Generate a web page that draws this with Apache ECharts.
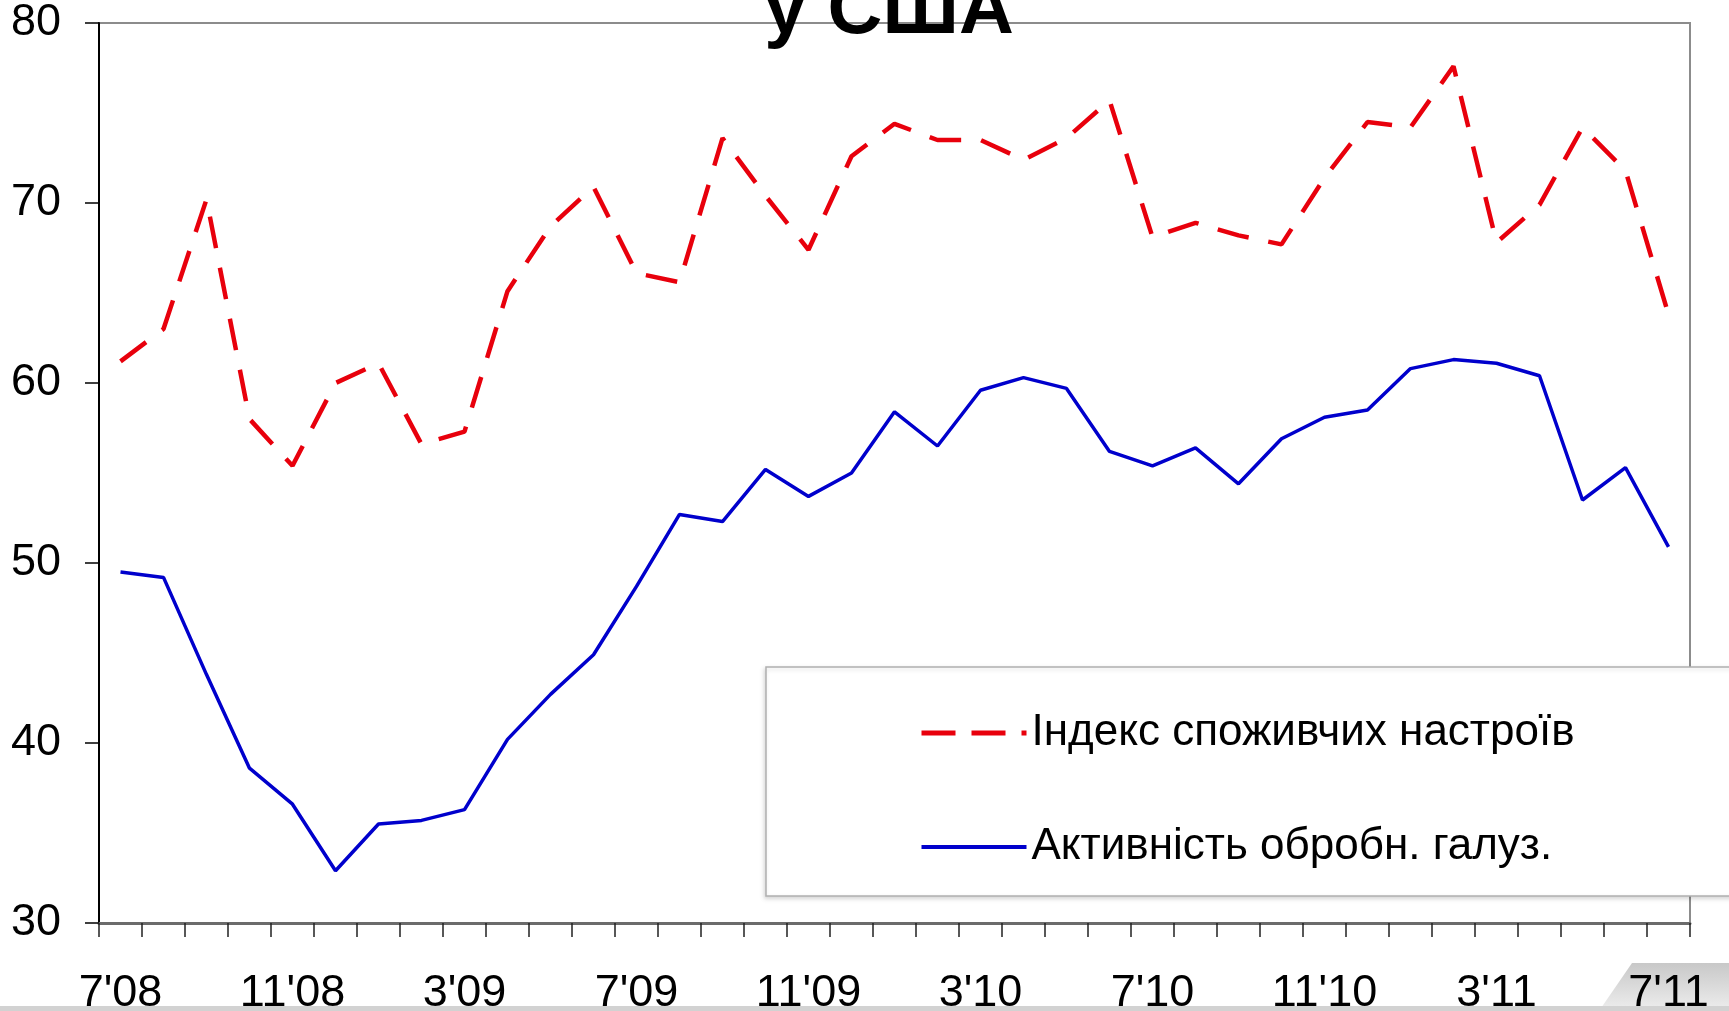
<!DOCTYPE html>
<html>
<head>
<meta charset="utf-8">
<script src="https://cdn.jsdelivr.net/npm/echarts@6/dist/echarts.min.js"></script>
<style>
  html, body { margin: 0; padding: 0; background: #fff; }
  #chart { width: 1729px; height: 1011px; }
</style>
</head>
<body>
<div id="chart"></div>
<script>
// місяці 7'08 .. 7'11
const months = [
  "7'08", "8'08", "9'08", "10'08", "11'08", "12'08", "1'09", "2'09", "3'09", "4'09", "5'09", "6'09",
  "7'09", "8'09", "9'09", "10'09", "11'09", "12'09", "1'10", "2'10", "3'10", "4'10", "5'10", "6'10",
  "7'10", "8'10", "9'10", "10'10", "11'10", "12'10", "1'11", "2'11", "3'11", "4'11", "5'11", "6'11",
  "7'11"
]

const sentimentName = 'Індекс споживчих настроїв'
const sentiment = [
  61.2, 63.0, 70.2, 58.0, 55.4, 60.0, 61.1, 56.6, 57.3, 65.1, 68.7, 70.9,
  66.1, 65.6, 73.6, 70.4, 67.4, 72.6, 74.4, 73.5, 73.5, 72.4, 73.6, 75.7,
  68.1, 68.9, 68.2, 67.7, 71.4, 74.5, 74.2, 77.6, 67.8, 69.9, 74.2, 71.8,
  63.8
]

const manufName = 'Активність обробн. галуз.'
const manufacturing = [
  49.5, 49.2, 43.8, 38.6, 36.6, 32.9, 35.5, 35.7, 36.3, 40.2, 42.7, 44.9,
  48.7, 52.7, 52.3, 55.2, 53.7, 55.0, 58.4, 56.5, 59.6, 60.3, 59.7, 56.2,
  55.4, 56.4, 54.4, 56.9, 58.1, 58.5, 60.8, 61.3, 61.1, 60.4, 53.5, 55.3,
  50.9
]

const yTicks = { min: 30, max: 80, step: 10 }

const font = "'Liberation Sans', Arial, sans-serif"
const red = '#e8000c'
const blue = '#0000cc'
const chart = echarts.init(document.getElementById('chart'))

chart.setOption({
  backgroundColor: '#fff',
  animation: false,
  title: {
    text: 'у США',
    left: 889,
    top: -26,
    padding: 0,
    textAlign: 'center',
    textStyle: { fontFamily: font, fontSize: 76, fontWeight: 'bold', color: '#000' }
  },
  grid: {
    left: 99,
    right: 39,
    top: 23,
    bottom: 88,
    outerBoundsMode: 'none',
    show: true,
    borderColor: '#8c8c8c',
    borderWidth: 2,
    backgroundColor: 'transparent'
  },
  graphic: [
    {
      type: 'rect',
      z: 1,
      shape: { x: 766, y: 667, width: 1000, height: 229 },
      style: {
        fill: '#fff',
        stroke: '#b0b0b0',
        lineWidth: 1.5,
        shadowBlur: 4,
        shadowOffsetX: -1,
        shadowOffsetY: 2,
        shadowColor: 'rgba(0,0,0,0.15)'
      }
    },
    {
      type: 'rect',
      z: 1,
      shape: { x: 0, y: 1006, width: 1729, height: 5 },
      style: { fill: '#d2d2d2' }
    },
    {
      type: 'polygon',
      z: 0,
      shape: { points: [[1599, 1011], [1632, 963], [1729, 963], [1729, 1011]] },
      style: {
        fill: new echarts.graphic.LinearGradient(0, 0, 0, 1, [
          { offset: 0, color: '#c8c8c8' },
          { offset: 1, color: '#eeeeee' }
        ])
      }
    }
  ],
  legend: {
    orient: 'vertical',
    left: 914,
    top: 706,
    itemWidth: 105,
    itemHeight: 20,
    itemGap: 70,
    z: 5,
    itemStyle: { opacity: 0 },
    textStyle: { fontFamily: font, fontSize: 44, color: '#000' },
    data: [
      { name: sentimentName, lineStyle: { width: 5, type: [34, 16] } },
      { name: manufName, lineStyle: { width: 4 } }
    ]
  },
  xAxis: {
    type: 'category',
    data: months,
    boundaryGap: true,
    axisLine: { lineStyle: { color: '#6b6b6b', width: 3 } },
    axisTick: { show: true, interval: 0, length: 14, lineStyle: { color: '#222', width: 1.5 } },
    axisLabel: {
      interval: 3,
      margin: 48,
      fontFamily: font,
      fontSize: 45,
      color: '#000'
    },
    splitLine: { show: false }
  },
  yAxis: {
    type: 'value',
    min: yTicks.min,
    max: yTicks.max,
    interval: yTicks.step,
    axisLine: { show: true, lineStyle: { color: '#000', width: 2 } },
    axisTick: { show: true, length: 14, lineStyle: { color: '#000', width: 1.5 } },
    axisLabel: { margin: 38, padding: [6, 0, 0, 0], fontFamily: font, fontSize: 45, color: '#000' },
    splitLine: { show: false }
  },
  series: [
    {
      name: sentimentName,
      type: 'line',
      data: sentiment,
      symbol: 'none',
      z: 3,
      lineStyle: { color: red, width: 4.5, type: [32, 20] },
      itemStyle: { color: red }
    },
    {
      name: manufName,
      type: 'line',
      data: manufacturing,
      symbol: 'none',
      z: 3,
      lineStyle: { color: blue, width: 3.5 },
      itemStyle: { color: blue }
    }
  ]
})
</script>
</body>
</html>
